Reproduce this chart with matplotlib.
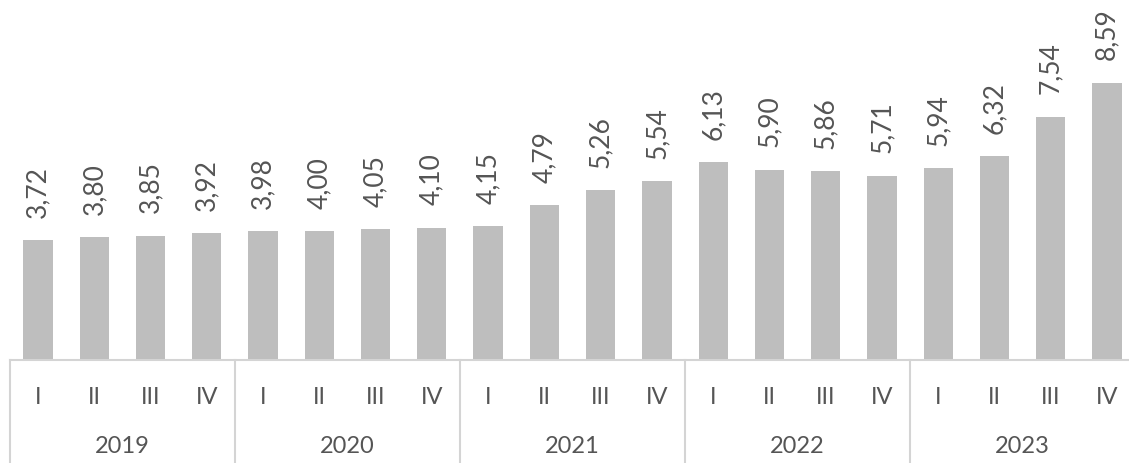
import matplotlib
matplotlib.use("Agg")
import matplotlib.pyplot as plt

YEARS = ["2019", "2020", "2021", "2022", "2023"]
QUARTERS = ["I", "II", "III", "IV"]
VALUES = [3.72, 3.80, 3.85, 3.92,
          3.98, 4.00, 4.05, 4.10,
          4.15, 4.79, 5.26, 5.54,
          6.13, 5.90, 5.86, 5.71,
          5.94, 6.32, 7.54, 8.59]
LABELS = [f"{v:.2f}".replace(".", ",") for v in VALUES]

BAR = "#bebebe"
TXT = "#555555"
LINE = "#d4d4d4"

plt.rcParams["font.family"] = ["Lato", "DejaVu Sans"]

fig = plt.figure(figsize=(11.29, 4.63), dpi=100)
ax = fig.add_axes([0, 0, 1, 1])
ax.set_axis_off()
n = len(VALUES)
xs = list(range(n))
ax.bar(xs, VALUES, width=0.52, color=BAR)
ax.set_xlim(-0.675, 19.39)
ax.set_ylim(-3.19, 11.15)

for x, v, lab in zip(xs, VALUES, LABELS):
    ax.annotate(lab, (x, v), xytext=(0, 16), textcoords="offset points",
                rotation=90, ha="center", va="bottom", fontsize=19, color=TXT)

# category box below the bars
ax.plot([-0.5, n - 0.5], [0, 0], color=LINE, lw=1.5, clip_on=False)
for k in range(len(YEARS) + 1):
    xd = k * 4 - 0.5
    ax.plot([xd, xd], [0, -3.3], color=LINE, lw=1.5, clip_on=False)
for i in xs:
    ax.text(i, -1.15, QUARTERS[i % 4], ha="center", va="center", fontsize=17, color=TXT)
for k, yr in enumerate(YEARS):
    ax.text(k * 4 + 1.5, -2.68, yr, ha="center", va="center", fontsize=17, color=TXT)

fig.savefig("out.png", dpi=100)
